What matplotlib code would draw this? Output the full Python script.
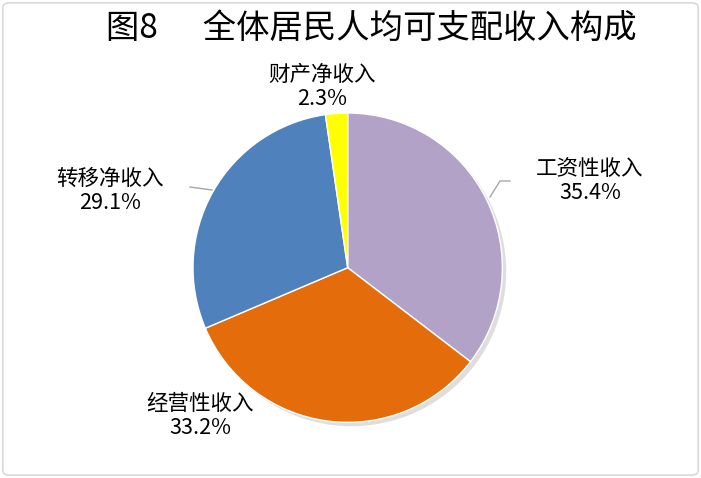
import matplotlib.pyplot as plt
from matplotlib.patches import FancyBboxPatch

plt.rcParams['font.family'] = ['Noto Sans CJK SC', 'DejaVu Sans']

# === Data ===
labels = ["工资性收入", "经营性收入", "转移净收入", "财产净收入"]
shares = [35.4, 33.2, 29.1, 2.3]
colors = ["#B3A2C7", "#E46C0A", "#4F81BD", "#FFFF00"]

fig = plt.figure(figsize=(7.01, 4.78), dpi=100)

# outer frame
frame = FancyBboxPatch((0.004, 0.006), 0.992, 0.988, boxstyle="round,pad=0,rounding_size=0.01",
                       transform=fig.transFigure, fill=False, edgecolor="#D9D9D9", linewidth=1.2)
fig.patches.append(frame)

fig.text(371 / 701, 1 - 28 / 478, "图8      全体居民人均可支配收入构成", ha="center", va="center",
         fontsize=24)

# pie: center (350, 270), radius 157 px
r = 157
ax = fig.add_axes([(350 - r) / 701, (478 - 270 - r) / 478, 2 * r / 701, 2 * r / 478])

# soft shadow
ax.pie(shares, colors=["#BFBFBF"] * 4, startangle=90, counterclock=False, radius=1.0,
       center=(0.025, -0.025), wedgeprops=dict(linewidth=0, alpha=0.5))
wedges, _ = ax.pie(shares, colors=colors, startangle=90, counterclock=False, radius=1.0,
                   wedgeprops=dict(edgecolor="white", linewidth=1.0))
ax.set_xlim(-1, 1.03)
ax.set_ylim(-1.03, 1)
ax.set_aspect("auto")
ax.axis("off")

# labels placed in pixel coords
def px(x, y):
    return x / 701, 1 - y / 478

lab_pos = [(590, 181), (200, 416), (110, 191), (322, 87)]
for lab, s, (x, y) in zip(labels, shares, lab_pos):
    fx, fy = px(x, y)
    fig.text(fx, fy, f"{lab}\n{s}%", ha="center", va="center", fontsize=15.5,
             linespacing=1.12, color="#000000")

# leader lines
for pts in ([(510, 181), (500, 181), (490, 197)], [(190, 187), (212, 190)]):
    xs = [p[0] / 701 for p in pts]
    ys = [1 - p[1] / 478 for p in pts]
    fig.add_artist(plt.Line2D(xs, ys, transform=fig.transFigure, color="#A6A6A6", linewidth=1))

fig.savefig("out.png", dpi=100)
